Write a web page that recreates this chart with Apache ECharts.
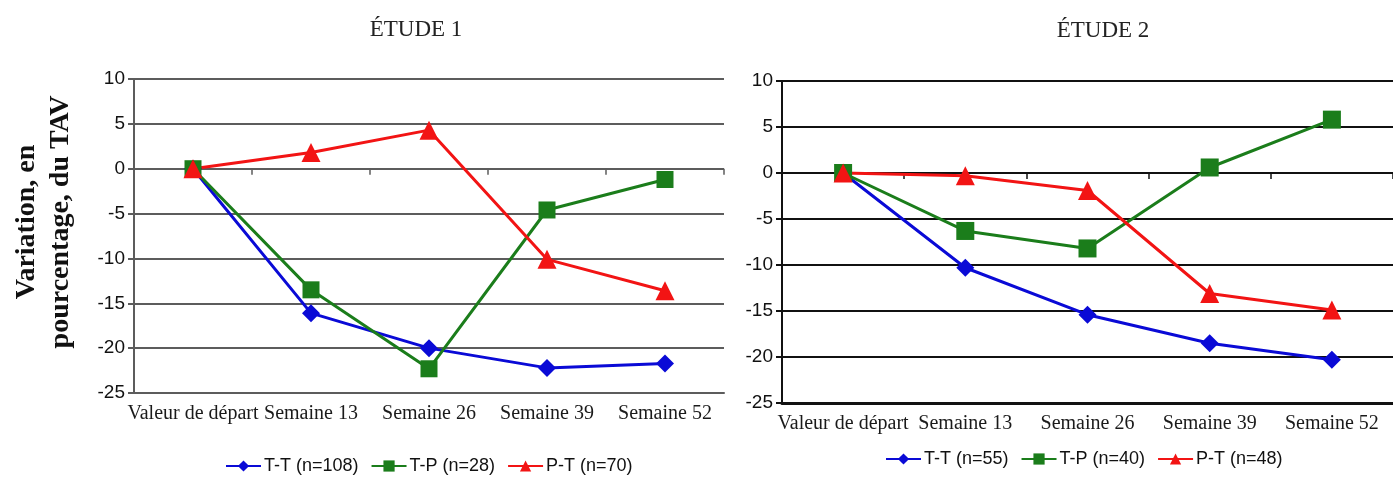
<!DOCTYPE html>
<html>
<head>
<meta charset="utf-8">
<script src="https://cdn.jsdelivr.net/npm/echarts@6/dist/echarts.min.js"></script>
<style>
html,body{margin:0;padding:0;background:#fff;}
#chart{width:1393px;height:477px;}
</style>
</head>
<body>
<div id="chart"></div>
<script>
// ---- data ----
const categories = ['Valeur de départ', 'Semaine 13', 'Semaine 26', 'Semaine 39', 'Semaine 52'];
const titles = ['ÉTUDE 1', 'ÉTUDE 2'];
const yAxisTitle = 'Variation, en\npourcentage, du TAV';
const yMin = -25, yMax = 10, yStep = 5;

const names1 = ['T-T (n=108)', 'T-P (n=28)', 'P-T (n=70)'];
const etude1_TT = [0, -16.1, -20.0, -22.2, -21.7];
const etude1_TP = [0, -13.5, -22.3, -4.6, -1.2];
const etude1_PT = [0, 1.8, 4.3, -10.1, -13.6];

const names2 = ['T-T (n=55)', 'T-P (n=40)', 'P-T (n=48)'];
const etude2_TT = [0, -10.3, -15.4, -18.5, -20.3];
const etude2_TP = [0, -6.3, -8.2, 0.6, 5.8];
const etude2_PT = [0, -0.3, -1.9, -13.1, -14.9];

// ---- styles ----
const BLUE = '#0a0ad6', GREEN = '#1b7d1b', RED = '#f21414';
const SANS = '"Liberation Sans", Arial, sans-serif';
const SERIF = '"Liberation Serif", "Times New Roman", serif';
const gridColors = ['#5c5c5c', '#111111'];

const chart = echarts.init(document.getElementById('chart'), null, {renderer: 'canvas'});

function xAxes(gi) {
  return [
    {
      type: 'category', gridIndex: gi, data: categories, position: 'bottom',
      boundaryGap: true,
      axisLine: {show: true, onZero: false, lineStyle: {color: gridColors[gi], width: gi === 0 ? 2 : 3}},
      axisTick: {show: false},
      axisLabel: {interval: 0, margin: 11, fontFamily: SERIF, fontSize: 20, color: '#1a1a1a'},
      splitLine: {show: false}
    },
    {
      type: 'category', gridIndex: gi, data: categories, position: 'bottom',
      boundaryGap: true,
      axisLine: {show: false, onZero: true},
      axisTick: {show: true, length: 6, interval: 0, lineStyle: {color: gridColors[gi], width: 1.5}},
      axisLabel: {show: false},
      splitLine: {show: false}
    }
  ];
}
function yAxis(gi) {
  return {
    type: 'value', gridIndex: gi, min: yMin, max: yMax, interval: yStep,
    axisLine: {show: true, lineStyle: {color: gridColors[gi], width: 2}},
    axisTick: {show: true, length: 6, lineStyle: {color: gridColors[gi], width: 2}},
    axisLabel: {margin: 9, fontFamily: SANS, fontSize: 19, color: '#111'},
    splitLine: {show: true, lineStyle: {color: gridColors[gi], width: 2}}
  };
}
function series(name, data, color, symbol, size, gi) {
  return {
    name: name, type: 'line', data: data,
    xAxisIndex: gi * 2, yAxisIndex: gi,
    symbol: symbol, symbolSize: size,
    lineStyle: {color: color, width: 3},
    itemStyle: {color: color},
    emphasis: {disabled: true},
    z: 3
  };
}

const legendBase = {
  orient: 'horizontal', itemWidth: 35, itemHeight: 14, itemGap: 12, padding: 0,
  textStyle: {fontFamily: SANS, fontSize: 18, color: '#111', padding: [0, 0, 0, -2]},
  selectedMode: false
};

chart.setOption({
  animation: false,
  backgroundColor: '#fff',
  grid: [
    {left: 134, top: 79, width: 590, height: 314, containLabel: false},
    {left: 782, top: 81, width: 619, height: 322, containLabel: false}
  ],
  xAxis: xAxes(0).concat(xAxes(1)),
  yAxis: [yAxis(0), yAxis(1)],
  legend: [
    Object.assign({}, legendBase, {data: names1, left: 225, top: 457}),
    Object.assign({}, legendBase, {data: names2, left: 885, top: 450})
  ],
  graphic: [
    {type: 'text', x: 416, y: 30, style: {text: titles[0], fontFamily: SERIF, fontSize: 23, fill: '#222', align: 'center', verticalAlign: 'middle'}},
    {type: 'text', x: 1103, y: 31, style: {text: titles[1], fontFamily: SERIF, fontSize: 23, fill: '#222', align: 'center', verticalAlign: 'middle'}},
    {type: 'text', x: 44, y: 222, rotation: Math.PI / 2,
     style: {text: yAxisTitle, fontFamily: SERIF, fontSize: 28, fontWeight: 'bold', lineHeight: 34, fill: '#111', align: 'center', verticalAlign: 'middle'}}
  ],
  series: [
    series(names1[0], etude1_TT, BLUE, 'diamond', 18, 0),
    series(names1[1], etude1_TP, GREEN, 'rect', 17, 0),
    series(names1[2], etude1_PT, RED, 'triangle', 19, 0),
    series(names2[0], etude2_TT, BLUE, 'diamond', 18, 1),
    series(names2[1], etude2_TP, GREEN, 'rect', 18, 1),
    series(names2[2], etude2_PT, RED, 'triangle', 19, 1)
  ]
});
</script>
</body>
</html>
